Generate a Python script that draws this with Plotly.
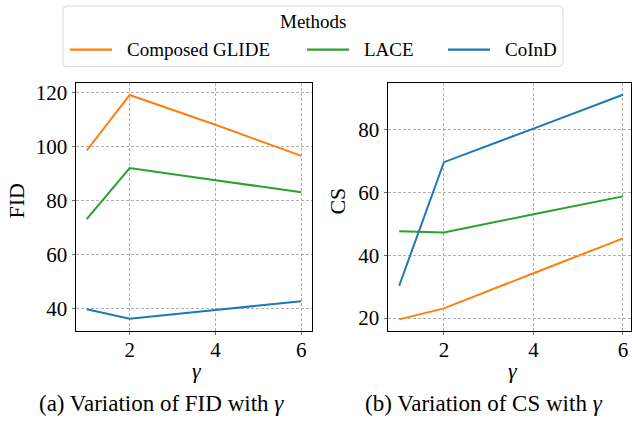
import plotly.graph_objects as go

gamma = [1, 2, 4, 6]
methods = ["Composed GLIDE", "LACE", "CoInD"]
colors = ["#ff7f0e", "#2ca02c", "#1f77b4"]
fid = {
    "Composed GLIDE": [98.5, 119.0, 108.0, 96.5],
    "LACE": [73.1, 92.0, 87.5, 83.1],
    "CoInD": [39.8, 36.3, 39.5, 42.8],
}
cs = {
    "Composed GLIDE": [19.6, 23.1, 34.3, 45.4],
    "LACE": [47.7, 47.3, 53.1, 58.8],
    "CoInD": [30.3, 69.7, 80.4, 91.2],
}
fid_ticks = [40, 60, 80, 100, 120]
cs_ticks = [20, 40, 60, 80]
x_ticks = [2, 4, 6]

W, H = 632, 421
FONT = "Liberation Serif"

fig = go.Figure()
for m, c in zip(methods, colors):
    fig.add_trace(go.Scatter(x=gamma, y=fid[m], mode="lines", name=m,
                             line=dict(color=c, width=2), xaxis="x", yaxis="y",
                             showlegend=False))
    fig.add_trace(go.Scatter(x=gamma, y=cs[m], mode="lines", name=m,
                             line=dict(color=c, width=2), xaxis="x2", yaxis="y2",
                             showlegend=False))

def px(v):
    return v / W

def py(v):
    return 1 - v / H

ydom = [py(330), py(81)]
axis_common = dict(showline=True, linecolor="black", linewidth=1, mirror=True,
                   ticks="outside", ticklen=3.5, tickcolor="#666",
                   showgrid=True, gridcolor="#b0b0b0", griddash="3px,2px", gridwidth=1,
                   zeroline=False, tickfont=dict(family=FONT, size=21, color="black"))

fig.update_layout(
    width=W, height=H, margin=dict(l=0, r=0, t=0, b=0),
    paper_bgcolor="white", plot_bgcolor="white",
    font=dict(family=FONT, color="black"),
    xaxis=dict(domain=[px(76), px(312)], range=[0.75, 6.25], tickvals=x_ticks,
               anchor="y", ticklabelstandoff=-3, **axis_common),
    yaxis=dict(domain=ydom, range=[31.9, 123.3], tickvals=fid_ticks,
               anchor="x", **axis_common),
    xaxis2=dict(domain=[px(388), 0.9992], range=[0.75, 6.19], tickvals=x_ticks,
                anchor="y2", ticklabelstandoff=-3, **axis_common),
    yaxis2=dict(domain=ydom, range=[16.0, 94.8], tickvals=cs_ticks,
                anchor="x2", **axis_common),
    showlegend=False,
)

# legend box (rounded) drawn in paper coordinates
x0, x1, y0, y1, r = 63, 563, 3, 64, 4
path = (f"M {px(x0+r)},{py(y0)} L {px(x1-r)},{py(y0)} Q {px(x1)},{py(y0)} {px(x1)},{py(y0+r)} "
        f"L {px(x1)},{py(y1-r)} Q {px(x1)},{py(y1)} {px(x1-r)},{py(y1)} "
        f"L {px(x0+r)},{py(y1)} Q {px(x0)},{py(y1)} {px(x0)},{py(y1-r)} "
        f"L {px(x0)},{py(y0+r)} Q {px(x0)},{py(y0)} {px(x0+r)},{py(y0)} Z")
fig.add_shape(type="path", path=path, xref="paper", yref="paper",
              line=dict(color="#d9d9d9", width=1), fillcolor="white", layer="above")
fig.add_annotation(text="Methods", x=px(313), y=py(19), xref="paper", yref="paper",
                   showarrow=False, xanchor="center", yanchor="middle",
                   font=dict(family=FONT, size=19, color="black"))
leg_line_x = [70, 307, 448]
leg_text_x = [125, 362, 503]
for m, c, lx, tx in zip(methods, colors, leg_line_x, leg_text_x):
    fig.add_shape(type="line", x0=px(lx), x1=px(lx + 42), y0=py(47), y1=py(47),
                  xref="paper", yref="paper", line=dict(color=c, width=2.2), layer="above")
    fig.add_annotation(text=m, x=px(tx), y=py(47), xref="paper", yref="paper",
                       showarrow=False, xanchor="left", yanchor="middle",
                       font=dict(family=FONT, size=19, color="black"))

ann = [
    dict(text="FID", x=px(17), y=py(200), textangle=-90, size=22),
    dict(text="CS", x=px(338), y=py(200), textangle=-90, size=22),
    dict(text="<i>γ</i>", x=px(197), y=py(370), textangle=0, size=22),
    dict(text="<i>γ</i>", x=px(513), y=py(370), textangle=0, size=22),
    dict(text="(a) Variation of FID with <i>γ</i>", x=px(161), y=py(403), textangle=0, size=23),
    dict(text="(b) Variation of CS with <i>γ</i>", x=px(484), y=py(403), textangle=0, size=23),
]
for a in ann:
    fig.add_annotation(text=a["text"], x=a["x"], y=a["y"], xref="paper", yref="paper",
                       showarrow=False, textangle=a["textangle"], xanchor="center",
                       yanchor="middle", font=dict(family=FONT, size=a["size"], color="black"))

fig.write_html("out.html", config={"displayModeBar": False},
               post_script="document.body.style.margin='0';")
